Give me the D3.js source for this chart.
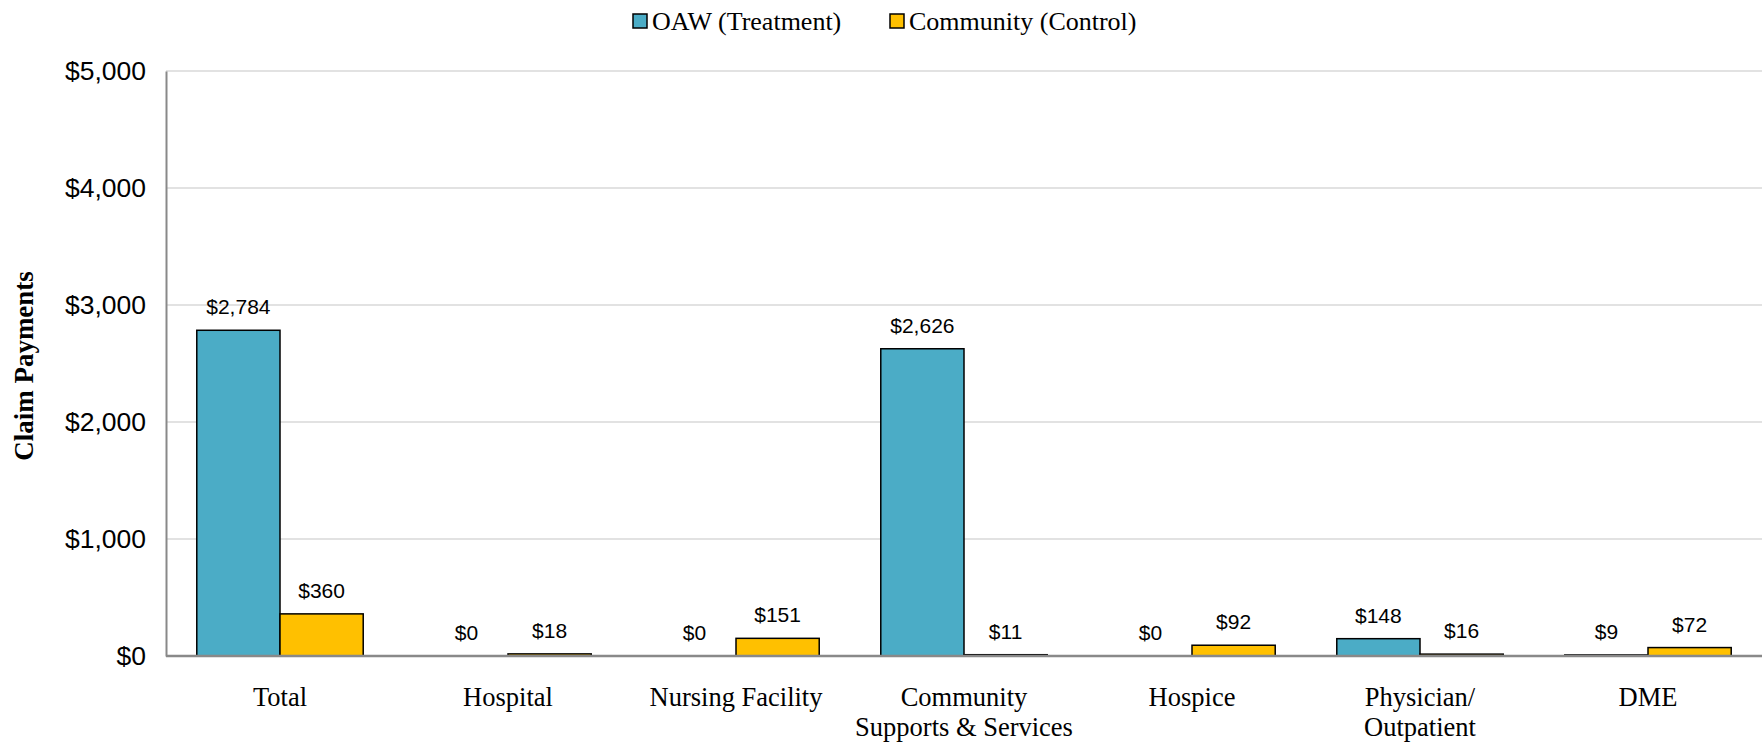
<!DOCTYPE html>
<html>
<head>
<meta charset="utf-8">
<script src="https://cdn.jsdelivr.net/npm/d3@7"></script>
<style>
  html, body { margin: 0; padding: 0; background: #fff; }
  svg { display: block; }
</style>
</head>
<body>
<svg id="chart" width="1762" height="742"></svg>
<script>
const categories = [["Total"], ["Hospital"], ["Nursing Facility"], ["Community", "Supports & Services"], ["Hospice"], ["Physician/", "Outpatient"], ["DME"]];
const seriesNames = ["OAW (Treatment)", "Community (Control)"];
const oawValues = [2784, 0, 0, 2626, 0, 148, 9];
const communityValues = [360, 18, 151, 11, 92, 16, 72];
const yTicks = [0, 1000, 2000, 3000, 4000, 5000];
const colors = ["#4BACC6", "#FFC000"];

const svg = d3.select("#chart");
const W = 1762, H = 742;
const m = { left: 166, right: 0, top: 71, bottom: 86 };
const x0 = d3.scaleBand().domain(d3.range(categories.length)).range([m.left, W - m.right]).paddingInner(0.27).paddingOuter(0.135);
const x1 = d3.scaleBand().domain([0, 1]).range([0, x0.bandwidth()]);
const y = d3.scaleLinear().domain([0, 5000]).range([H - m.bottom, m.top]);
const fmt = v => "$" + d3.format(",")(v);

// gridlines
svg.append("g").selectAll("line").data(yTicks.filter(d => d > 0)).join("line")
  .attr("x1", m.left).attr("x2", W).attr("y1", d => y(d)).attr("y2", d => y(d))
  .attr("stroke", "#d9d9d9").attr("stroke-width", 1.5);

// y axis
const yAxis = svg.append("g").attr("transform", `translate(${m.left},0)`)
  .call(d3.axisLeft(y).tickValues(yTicks).tickFormat(fmt).tickSize(0).tickPadding(20));
yAxis.select(".domain").attr("stroke", "#898989").attr("stroke-width", 2);
yAxis.selectAll("text").attr("font-family", "Liberation Sans, Arial, sans-serif").attr("font-size", 26.5).attr("fill", "#000");

// bars
const series = [oawValues, communityValues];
series.forEach((vals, si) => {
  const g = svg.append("g");
  g.selectAll("rect").data(vals).join("rect")
    .attr("x", (d, i) => x0(i) + x1(si))
    .attr("y", d => y(d))
    .attr("width", x1.bandwidth())
    .attr("height", d => y(0) - y(d))
    .attr("fill", colors[si])
    .attr("stroke", d => d > 0 ? "#000" : "none")
    .attr("stroke-width", 1.5);
  g.selectAll("text").data(vals).join("text")
    .attr("x", (d, i) => x0(i) + x1(si) + x1.bandwidth() / 2)
    .attr("y", d => y(d) - 16)
    .attr("text-anchor", "middle")
    .attr("font-family", "Liberation Sans, Arial, sans-serif")
    .attr("font-size", 21)
    .attr("fill", "#000")
    .text(fmt);
});

// x axis line
svg.append("line").attr("x1", m.left).attr("x2", W).attr("y1", y(0)).attr("y2", y(0))
  .attr("stroke", "#898989").attr("stroke-width", 2.5);

// category labels
const xl = svg.append("g");
categories.forEach((lines, i) => {
  const t = xl.append("text")
    .attr("x", x0(i) + x0.bandwidth() / 2)
    .attr("y", 706)
    .attr("text-anchor", "middle")
    .attr("font-family", "Liberation Serif, Times New Roman, serif")
    .attr("font-size", 26.5)
    .attr("fill", "#000");
  lines.forEach((ln, j) => t.append("tspan").attr("x", x0(i) + x0.bandwidth() / 2).attr("dy", j === 0 ? 0 : 30).text(ln));
});

// y title
svg.append("text")
  .attr("transform", "translate(33,366) rotate(-90)")
  .attr("text-anchor", "middle")
  .attr("font-family", "Liberation Serif, Times New Roman, serif")
  .attr("font-weight", "bold")
  .attr("font-size", 27)
  .attr("fill", "#000")
  .text("Claim Payments");

// legend
const legendX = [633, 890];
const lg = svg.append("g");
seriesNames.forEach((name, i) => {
  lg.append("rect").attr("x", legendX[i]).attr("y", 14).attr("width", 14).attr("height", 14)
    .attr("fill", colors[i]).attr("stroke", "#000").attr("stroke-width", 1.5);
  lg.append("text").attr("x", legendX[i] + 19).attr("y", 30)
    .attr("font-family", "Liberation Serif, Times New Roman, serif")
    .attr("font-size", 26).attr("fill", "#000").text(name);
});
</script>
</body>
</html>
